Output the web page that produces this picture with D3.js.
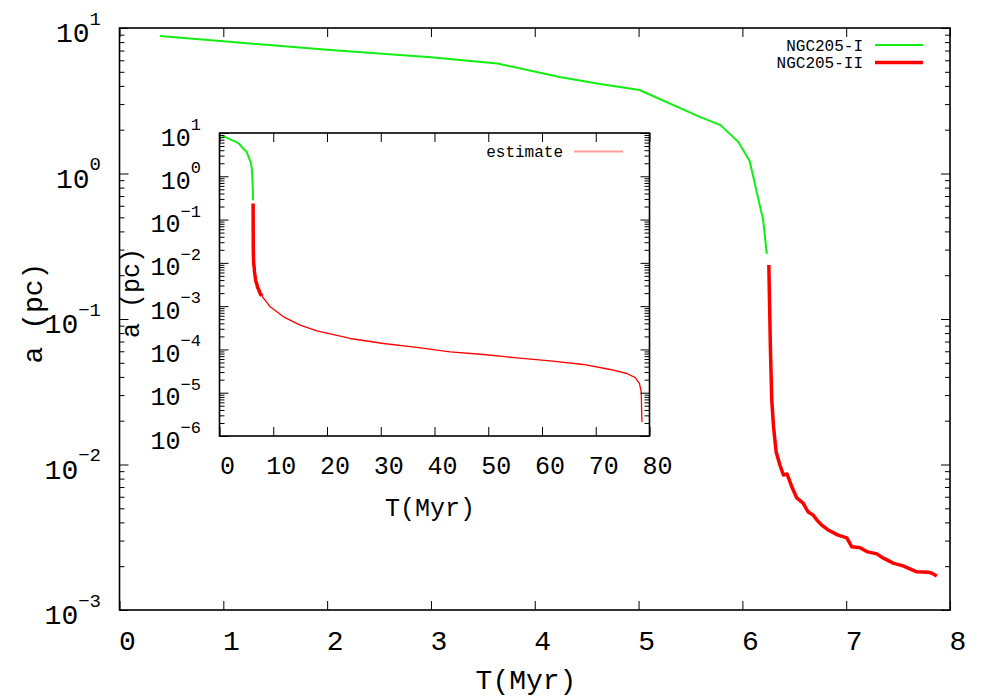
<!DOCTYPE html>
<html>
<head>
<meta charset="utf-8">
<script src="https://cdn.jsdelivr.net/npm/d3@7"></script>
<style>
  body { margin: 0; background: #fff; }
  text { font-family: "Liberation Mono", "DejaVu Sans Mono", monospace; fill: #000; }
</style>
</head>
<body>
<div id="chart"></div>
<script>
// data

// NGC205-I : T (Myr), a (pc)
var ngc1T = [0.39, 1.0, 2.0, 3.0, 3.64, 4.24, 4.63, 5.01, 5.59, 5.79, 5.96, 6.07, 6.20, 6.235];
var ngc1A = [8.8, 8.1, 7.1, 6.3, 5.7, 4.6, 4.12, 3.75, 2.45, 2.15, 1.65, 1.22, 0.48, 0.28];

// NGC205-II
var ngc2T = [6.255, 6.262, 6.27, 6.283, 6.30, 6.325, 6.36, 6.395, 6.43, 6.48, 6.524, 6.585, 6.633,
             6.681, 6.717, 6.77, 6.826, 6.922, 7.006, 7.054, 7.134, 7.198, 7.295, 7.355, 7.452,
             7.548, 7.68, 7.789, 7.825, 7.873];
var ngc2A = [0.235, 0.126, 0.0631, 0.0277, 0.0182, 0.01225, 0.0100, 0.00847, 0.00861, 0.00692,
             0.00589, 0.00543, 0.00472, 0.00450, 0.00416, 0.00380, 0.00355, 0.00327, 0.00313,
             0.00272, 0.00268, 0.00252, 0.00243, 0.00228, 0.00210, 0.00201, 0.00183, 0.00182,
             0.00179, 0.00171];

// estimate (inset only)
var estT = [7.9, 9.43, 11.91, 15.01, 18.12, 24.32, 30.51, 36.72, 42.92, 49.12, 55.33, 61.53,
            67.72, 72.69, 75.79, 77.34, 78.14, 78.46, 78.59];
var estA = [1.7e-3, 9.64e-4, 5.66e-4, 3.64e-4, 2.69e-4, 1.79e-4, 1.37e-4, 1.11e-4, 8.77e-5,
            7.64e-5, 6.37e-5, 5.43e-5, 4.49e-5, 3.44e-5, 2.78e-5, 2.24e-5, 1.63e-5, 1.04e-5, 2.11e-6];

// ticks
var mainXTicks = [0, 1, 2, 3, 4, 5, 6, 7, 8];
var mainYExp = [1, 0, -1, -2, -3];
var insXTicks = [0, 10, 20, 30, 40, 50, 60, 70, 80];
var insYExp = [1, 0, -1, -2, -3, -4, -5, -6];

var green = "#11ee11", red = "#ff0000";

var svg = d3.select("#chart").append("svg")
  .attr("width", 1000)
  .attr("height", 700);

// scales
var x = d3.scaleLinear().domain([0, 8]).range([119.5, 950]);
var y = d3.scaleLog().domain([1e-3, 10]).range([610, 28]);
var ix = d3.scaleLinear().domain([0, 80]).range([219.5, 649.5]);
var iy = d3.scaleLog().domain([1e-6, 10]).range([436, 133]);

function zipped(a, b) { return a.map(function(v, i) { return [v, b[i]]; }); }

function minorTicks(exps) {
  var out = [];
  var lo = d3.min(exps), hi = d3.max(exps);
  for (var e = lo; e < hi; e++) {
    for (var m = 2; m <= 9; m++) out.push(m * Math.pow(10, e));
  }
  return out;
}

function noDomain(g) { g.select(".domain").remove(); g.selectAll("line").attr("stroke", "#000"); }

// draws ticks, frame and labels of one panel
function panel(xs, ys, xTicks, yExp, o) {
  var x0 = xs.range()[0], x1 = xs.range()[1];
  var y0 = ys.range()[0], y1 = ys.range()[1];
  var majors = yExp.map(function(e) { return Math.pow(10, e); });
  var minors = minorTicks(yExp);

  svg.append("g").attr("transform", "translate(0," + y0 + ")")
    .call(d3.axisBottom(xs).tickValues(xTicks).tickSize(-9).tickFormat("")).call(noDomain);
  svg.append("g").attr("transform", "translate(0," + y1 + ")")
    .call(d3.axisTop(xs).tickValues(xTicks).tickSize(-9).tickFormat("")).call(noDomain);

  [[d3.axisLeft, x0], [d3.axisRight, x1]].forEach(function(p) {
    svg.append("g").attr("transform", "translate(" + p[1] + ",0)")
      .call(p[0](ys).tickValues(majors).tickSize(-9).tickFormat("")).call(noDomain);
    svg.append("g").attr("transform", "translate(" + p[1] + ",0)")
      .call(p[0](ys).tickValues(minors).tickSize(-5).tickFormat("")).call(noDomain);
  });

  svg.append("rect")
    .attr("x", x0).attr("y", y1)
    .attr("width", x1 - x0).attr("height", y0 - y1)
    .attr("fill", "none").attr("stroke", "#000").attr("stroke-width", 1.6);

  // x tick labels
  svg.selectAll(null).data(xTicks).enter().append("text")
    .attr("x", function(d) { return xs(d) + o.dx; })
    .attr("y", y0 + o.xLabY)
    .attr("text-anchor", "middle")
    .style("font-size", o.fs + "px")
    .text(function(d) { return d; });

  // y tick labels 10^n
  yExp.forEach(function(e) {
    var t = svg.append("text")
      .attr("x", o.yLabX)
      .attr("y", ys(Math.pow(10, e)) + o.fs * 0.5)
      .attr("text-anchor", "end")
      .style("font-size", o.fs + "px");
    t.append("tspan").text("10");
    t.append("tspan").attr("dy", -o.fs * 0.62).style("font-size", o.sup + "px")
      .text(e < 0 ? "\u2212" + (-e) : String(e));
  });
}

function drawLine(xs, ys, pts, color, w) {
  var l = d3.line().x(function(d) { return xs(d[0]); }).y(function(d) { return ys(d[1]); });
  svg.append("path")
    .attr("d", l(pts))
    .attr("fill", "none")
    .attr("stroke", color)
    .attr("stroke-width", w)
    .attr("stroke-linejoin", "round");
}

// ---------- main plot ----------
drawLine(x, y, zipped(ngc1T, ngc1A), green, 2);
drawLine(x, y, zipped(ngc2T, ngc2A), red, 3.5);
panel(x, y, mainXTicks, mainYExp, { dx: 8, xLabY: 40, yLabX: 101, fs: 28, sup: 19 });

// legend
var legend = [["NGC205-I", green, 2], ["NGC205-II", red, 3.5]];
legend.forEach(function(d, i) {
  var ly = 45 + i * 17.5;
  svg.append("text").attr("x", 863).attr("y", ly + 5.5)
    .attr("text-anchor", "end").style("font-size", "16px").text(d[0]);
  svg.append("line").attr("x1", 875).attr("x2", 923).attr("y1", ly).attr("y2", ly)
    .attr("stroke", d[1]).attr("stroke-width", d[2]);
});

// axis titles
svg.append("text").attr("x", 526).attr("y", 689)
  .attr("text-anchor", "middle").style("font-size", "28px").text("T(Myr)");
svg.append("text").attr("transform", "translate(42,313) rotate(-90)")
  .attr("text-anchor", "middle").style("font-size", "28px").text("a (pc)");

// ---------- inset ----------
svg.append("rect")
  .attr("x", ix.range()[0]).attr("y", iy.range()[1])
  .attr("width", ix.range()[1] - ix.range()[0]).attr("height", iy.range()[0] - iy.range()[1])
  .attr("fill", "#fff");

drawLine(ix, iy, zipped(ngc1T, ngc1A), green, 2);
drawLine(ix, iy, zipped(ngc2T, ngc2A), red, 3.5);
drawLine(ix, iy, zipped(estT, estA), red, 1.3);
panel(ix, iy, insXTicks, insYExp, { dx: 8, xLabY: 38, yLabX: 201, fs: 25, sup: 17 });

svg.append("text").attr("x", 563).attr("y", 157)
  .attr("text-anchor", "end").style("font-size", "16px").text("estimate");
svg.append("line").attr("x1", 574).attr("x2", 623).attr("y1", 151.5).attr("y2", 151.5)
  .attr("stroke", "#ff9c9c").attr("stroke-width", 2.2);

svg.append("text").attr("x", 430).attr("y", 516)
  .attr("text-anchor", "middle").style("font-size", "25px").text("T(Myr)");
svg.append("text").attr("transform", "translate(139,293) rotate(-90)")
  .attr("text-anchor", "middle").style("font-size", "25px").text("a (pc)");
</script>
</body>
</html>
